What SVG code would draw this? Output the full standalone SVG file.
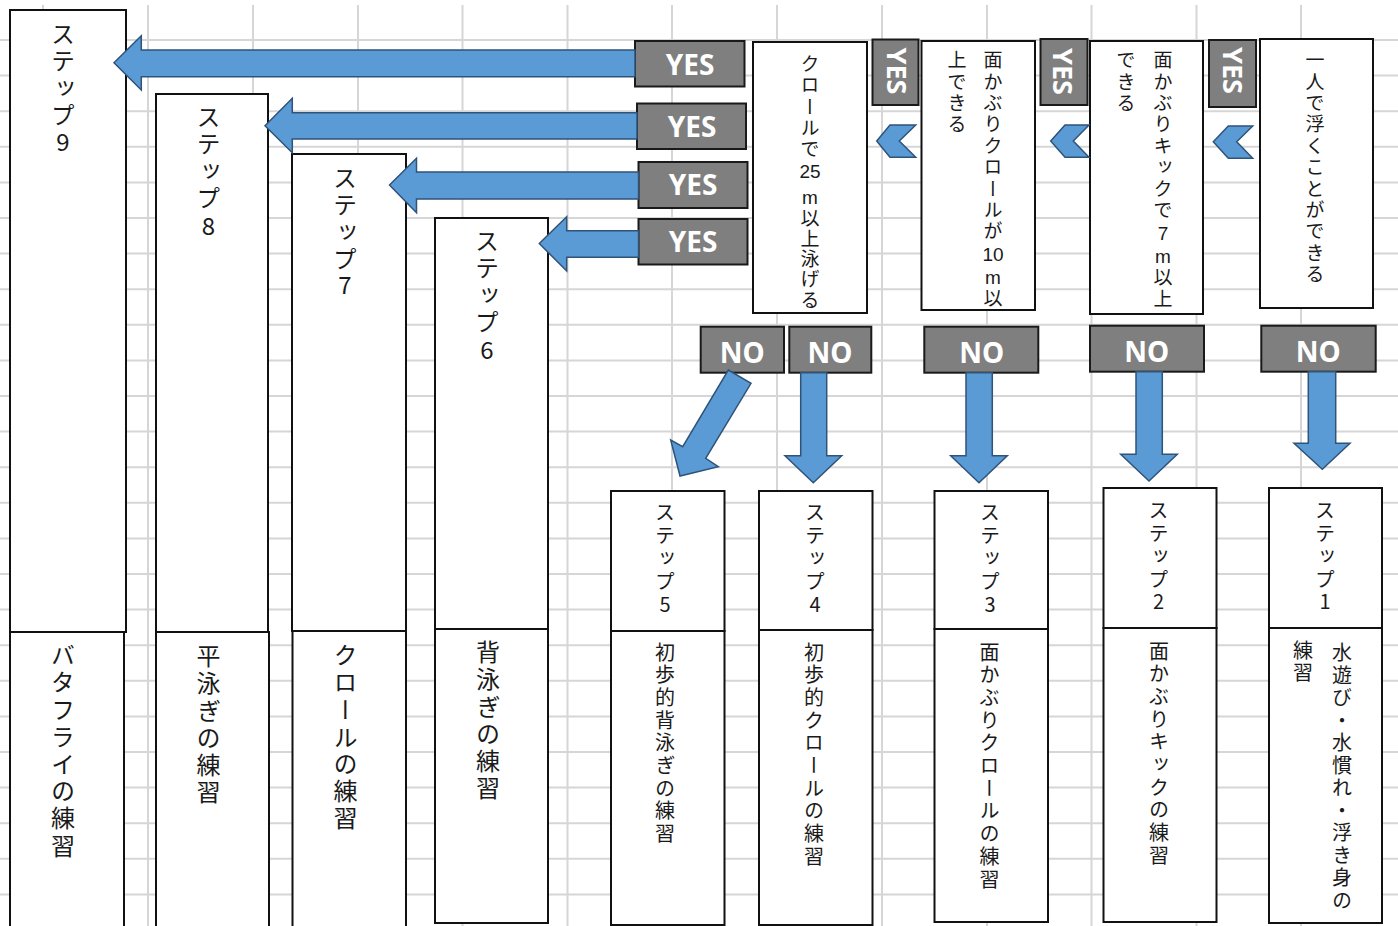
<svg xmlns="http://www.w3.org/2000/svg" width="1398" height="926" viewBox="0 0 1398 926">
<style>
.grid{stroke:#d6d6d6;stroke-width:2;fill:none}
.box{fill:#fff;stroke:#111;stroke-width:2}
.lbl{fill:#7f7f7f;stroke:#1a1a1a;stroke-width:2}
.lt{font-family:"Noto Sans","Liberation Sans",sans-serif;font-weight:bold;font-size:28px;fill:#fff;text-anchor:middle}
.lv{font-size:27px}
.v{font-family:"Noto Sans CJK JP",sans-serif;fill:#1a1a1a;writing-mode:vertical-rl}
.vl{font-size:24px;letter-spacing:3px}
.vl2{font-size:24px;letter-spacing:3.2px}
.vm{font-size:20px;letter-spacing:3px}
.vm2{font-size:20px;letter-spacing:2.7px}
.vs{font-size:19px;letter-spacing:2.4px}
.h{font-family:"Noto Sans CJK JP",sans-serif;fill:#1a1a1a;text-anchor:middle}
.hl{font-size:24px}
.hm{font-size:20px}
.hs{font-family:"Liberation Sans",sans-serif;font-size:19px}
.arr{fill:#5b9bd5;stroke:#2f5379;stroke-width:1.5;stroke-linejoin:miter}
</style>
<rect width="1398" height="926" fill="#fff"/>
<g id="grid">
<path class="grid" d="M43 5V926M148 5V926M253 5V926M358 5V926M462.5 5V926M567.5 5V926M672 5V926M777 5V926M882 5V926M987 5V926M1091.5 5V926M1196.5 5V926M1301 5V926"/>
<path class="grid" d="M0 40H1398M0 75.6H1398M0 111.2H1398M0 146.8H1398M0 182.4H1398M0 218H1398M0 253.6H1398M0 289.2H1398M0 324.8H1398M0 360.4H1398M0 396H1398M0 431.6H1398M0 467.2H1398M0 502.8H1398M0 538.4H1398M0 574H1398M0 609.6H1398M0 645.2H1398M0 680.8H1398M0 716.4H1398M0 752H1398M0 787.6H1398M0 823.2H1398M0 858.8H1398M0 894.4H1398"/>
</g>

<g id="step9">
<rect class="box" x="10" y="10" width="116" height="622"/>
<rect class="box" x="10" y="632" width="114" height="300"/>
<text class="v vl" x="63" y="22">ステップ</text>
<text class="h hl" x="63" y="151">9</text>
<text class="v vl2" x="63" y="643">バタフライの練習</text>
</g>
<g id="step8">
<rect class="box" x="156" y="94" width="112" height="538"/>
<rect class="box" x="156" y="632" width="113" height="300"/>
<text class="v vl" x="208.5" y="105">ステップ</text>
<text class="h hl" x="208.5" y="235">8</text>
<text class="v vl2" x="208.5" y="644">平泳ぎの練習</text>
</g>
<g id="step7">
<rect class="box" x="292" y="154" width="114" height="477"/>
<rect class="box" x="292.5" y="631" width="113.5" height="300"/>
<text class="v vl" x="345" y="166">ステップ</text>
<text class="h hl" x="345" y="294">7</text>
<text class="v vl2" x="345.5" y="643">クロールの練習</text>
</g>
<g id="step6">
<rect class="box" x="435" y="218" width="113" height="411"/>
<rect class="box" x="435" y="629" width="113" height="294"/>
<text class="v vl" x="487" y="229">ステップ</text>
<text class="h hl" x="487" y="359">6</text>
<text class="v vl2" x="488" y="640">背泳ぎの練習</text>
</g>
<g id="step5">
<rect class="box" x="611" y="491" width="113.5" height="140"/>
<rect class="box" x="611" y="631" width="113.5" height="294"/>
<text class="v vm" x="665" y="502.5">ステップ</text>
<text class="h hm" x="665" y="612">5</text>
<text class="v vm2" x="665" y="642">初歩的背泳ぎの練習</text>
</g>
<g id="step4">
<rect class="box" x="759" y="491" width="113.5" height="139"/>
<rect class="box" x="759" y="630" width="113.5" height="295"/>
<text class="v vm" x="815" y="502.5">ステップ</text>
<text class="h hm" x="815" y="612">4</text>
<text class="v vm2" x="814" y="642">初歩的クロールの練習</text>
</g>
<g id="step3">
<rect class="box" x="934.5" y="491" width="113.5" height="138"/>
<rect class="box" x="934.5" y="629" width="113.5" height="293"/>
<text class="v vm" x="990" y="502.5">ステップ</text>
<text class="h hm" x="990" y="612">3</text>
<text class="v vm2" x="989.5" y="642">面かぶりクロールの練習</text>
</g>
<g id="step2">
<rect class="box" x="1103.5" y="488" width="113" height="140"/>
<rect class="box" x="1103.5" y="628" width="113" height="294"/>
<text class="v vm" x="1158.5" y="500">ステップ</text>
<text class="h hm" x="1158.5" y="609">2</text>
<text class="v vm2" x="1159" y="641">面かぶりキックの練習</text>
</g>
<g id="step1">
<rect class="box" x="1269" y="488" width="113" height="140"/>
<rect class="box" x="1269" y="628" width="113" height="295"/>
<text class="v vm" x="1325" y="500">ステップ</text>
<text class="h hm" x="1325" y="609">1</text>
<text class="v vm2" x="1342" y="642.5" style="letter-spacing:2.5px">水遊び・水慣れ・浮き身の</text>
<text class="v vm2" x="1303" y="640">練習</text>
</g>

<g id="cond4">
<rect class="box" x="753" y="42" width="114" height="271"/>
<text class="v vs" x="810" y="54">クロールで</text>
<text class="h hs" x="810" y="178">25</text>
<text class="h hs" x="810" y="204">m</text>
<text class="v vs" x="810" y="208.5" style="letter-spacing:1.4px">以上泳げる</text>
</g>
<g id="cond3">
<rect class="box" x="921.5" y="41" width="113.5" height="269"/>
<text class="v vs" x="993" y="50.5">面かぶりクロールが</text>
<text class="h hs" x="993" y="260.5">10</text>
<text class="h hs" x="993" y="284">m</text>
<text class="v vs" x="993" y="288">以</text>
<text class="v vs" x="957" y="50.5">上できる</text>
</g>
<g id="cond2">
<rect class="box" x="1090" y="41" width="113" height="273"/>
<text class="v vs" x="1163" y="50.5">面かぶりキックで</text>
<text class="h hs" x="1163" y="239.5">7</text>
<text class="h hs" x="1163" y="263">m</text>
<text class="v vs" x="1163" y="267.5">以上</text>
<text class="v vs" x="1126" y="50.5">できる</text>
</g>
<g id="cond1">
<rect class="box" x="1260" y="39" width="113" height="269"/>
<text class="v vs" x="1315" y="50.5">一人で浮くことができる</text>
</g>

<g id="yes1"><rect class="lbl" x="635" y="41" width="109.5" height="45.5"/><text class="lt" x="690" y="75">YES</text></g>
<g id="yes2"><rect class="lbl" x="637" y="103.5" width="109" height="45.5"/><text class="lt" x="692" y="137">YES</text></g>
<g id="yes3"><rect class="lbl" x="638.5" y="162" width="109" height="46"/><text class="lt" x="693" y="195">YES</text></g>
<g id="yes4"><rect class="lbl" x="638.5" y="219" width="109" height="45.5"/><text class="lt" x="693" y="252">YES</text></g>
<g id="yes5"><rect class="lbl" x="872.5" y="39.5" width="46" height="65.5"/><text class="lt lv" transform="translate(897 71) rotate(90)" x="0" y="9.7">YES</text></g>
<g id="yes6"><rect class="lbl" x="1040.5" y="39" width="47" height="66"/><text class="lt lv" transform="translate(1063 71.5) rotate(90)" x="0" y="9.7">YES</text></g>
<g id="yes7"><rect class="lbl" x="1209" y="40" width="47" height="67"/><text class="lt lv" transform="translate(1232.7 70.5) rotate(90)" x="0" y="9.7">YES</text></g>

<g id="no5"><rect class="lbl" x="700.7" y="326.7" width="83.3" height="46"/><text class="lt" x="742.3" y="362.7">NO</text></g>
<g id="no4"><rect class="lbl" x="789.3" y="326.7" width="82" height="46"/><text class="lt" x="830" y="362.7">NO</text></g>
<g id="no3"><rect class="lbl" x="924.3" y="326.7" width="114" height="46"/><text class="lt" x="981.7" y="362.7">NO</text></g>
<g id="no2"><rect class="lbl" x="1090" y="325.7" width="114" height="46"/><text class="lt" x="1146.7" y="361.7">NO</text></g>
<g id="no1"><rect class="lbl" x="1261.3" y="325.7" width="114.4" height="46"/><text class="lt" x="1318.3" y="361.7">NO</text></g>

<g id="connectors">
<polygon class="arr" points="114,62.7 141.3,35.7 141.3,50 635,50 635,76.7 141.3,76.7 141.3,90"/>
<polygon class="arr" points="265,125.7 292.3,98.3 292.3,112.7 637,112.7 637,139 292.3,139 292.3,152.7"/>
<polygon class="arr" points="389.5,185 416.5,158.3 416.5,172 638.5,172 638.5,199 416.5,199 416.5,212.7"/>
<polygon class="arr" points="539.3,243.5 566.7,216.7 566.7,230.7 638.5,230.7 638.5,257.3 566.7,257.3 566.7,271"/>
<polygon class="arr" points="876.7,141 890,125 915.7,125 899.3,141 915.7,157.3 890,157.3"/>
<polygon class="arr" points="1050.7,141 1065,125 1089,125 1073.3,141 1089,157.3 1065,157.3"/>
<polygon class="arr" points="1213.3,141.7 1228.3,126 1252.7,126 1236.7,141.7 1252.7,158.3 1228.3,158.3"/>
<polygon class="arr" points="728.3,370 751,383.3 705.7,458.3 718.3,466.7 680,476 670.7,440 682.7,446.7"/>
<polygon class="arr" points="800.7,372.7 826.7,372.7 826.7,455.7 841.7,455.7 813.3,482.7 785,455.7 800.7,455.7"/>
<polygon class="arr" points="966,372.7 992.3,372.7 992.3,455.7 1007.3,455.7 979,482.7 950.7,455.7 966,455.7"/>
<polygon class="arr" points="1136,371.7 1162.3,371.7 1162.3,454.3 1177.3,454.3 1149,481 1120.7,454.3 1136,454.3"/>
<polygon class="arr" points="1308.3,371.7 1335.7,371.7 1335.7,443.3 1350,443.3 1322.3,469.3 1294,443.3 1308.3,443.3"/>
</g>
</svg>
